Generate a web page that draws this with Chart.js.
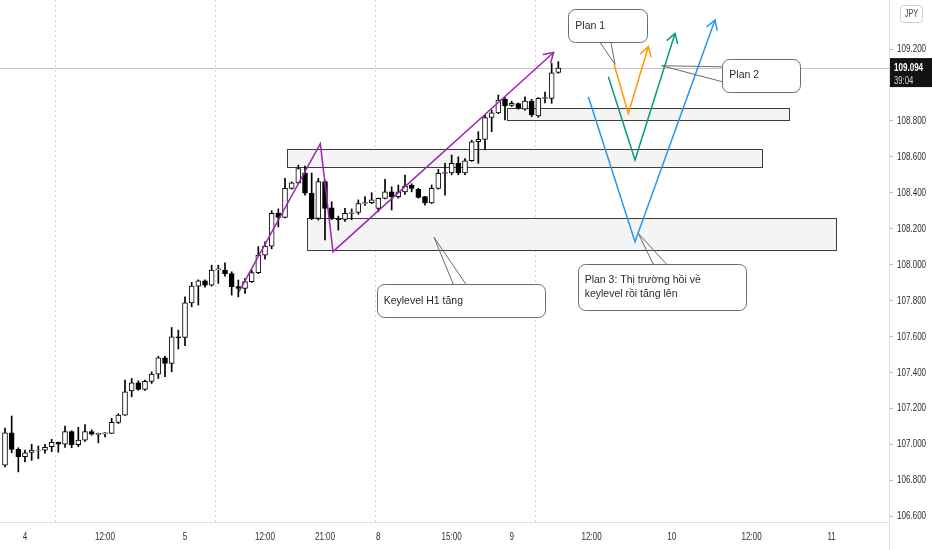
<!DOCTYPE html>
<html>
<head>
<meta charset="utf-8">
<script src="https://cdn.jsdelivr.net/npm/chart.js@4.4.1/dist/chart.umd.min.js"></script>
<style>
html,body{margin:0;padding:0;background:#fff;}
#wrap{width:932px;height:550px;}
</style>
</head>
<body>
<div id="wrap"><canvas id="chart" width="932" height="550"></canvas></div>
<script>
// hourly candles, USD/JPY
const opens  = [106.884,107.064,106.971,106.930,106.955,106.965,106.967,106.986,107.010,107.000,
                107.070,106.997,107.023,107.070,107.055,107.058,107.060,107.122,107.162,107.297,
                107.342,107.305,107.350,107.390,107.481,107.450,107.598,107.595,107.787,107.880,
                107.910,107.886,107.970,107.970,107.950,107.877,107.867,107.905,107.955,108.053,
                108.103,108.285,108.263,108.424,108.455,108.510,108.397,108.257,108.462,108.316,
                108.255,108.252,108.285,108.290,108.340,108.345,108.313,108.369,108.405,108.378,
                108.405,108.443,108.419,108.378,108.344,108.424,108.508,108.510,108.564,108.511,
                108.578,108.684,108.697,108.819,108.845,108.920,108.886,108.896,108.865,108.910,
                108.827,108.925,108.925,109.070];
const highs  = [107.090,107.157,106.980,106.967,107.000,106.990,107.000,107.027,107.012,107.101,
                107.075,107.094,107.110,107.080,107.062,107.065,107.144,107.170,107.357,107.366,
                107.353,107.357,107.403,107.490,107.490,107.650,107.635,107.821,107.901,107.915,
                107.915,107.997,107.997,108.010,107.960,107.914,107.923,107.970,108.100,108.127,
                108.300,108.310,108.480,108.460,108.554,108.549,108.510,108.480,108.470,108.350,
                108.270,108.313,108.310,108.360,108.378,108.400,108.370,108.474,108.433,108.443,
                108.498,108.450,108.425,108.380,108.443,108.530,108.564,108.610,108.600,108.590,
                108.693,108.740,108.833,108.860,108.944,108.930,108.910,108.900,108.934,108.920,
                108.930,108.960,109.120,109.130];
const lows   = [106.873,106.952,106.846,106.902,106.910,106.920,106.950,106.958,106.955,106.982,
                106.980,106.986,107.015,107.050,107.008,107.040,107.060,107.115,107.160,107.264,
                107.300,107.300,107.338,107.366,107.376,107.403,107.530,107.548,107.765,107.775,
                107.875,107.880,107.895,107.936,107.830,107.820,107.840,107.900,107.950,108.030,
                108.088,108.210,108.260,108.420,108.450,108.387,108.250,108.248,108.137,108.250,
                108.192,108.240,108.250,108.280,108.330,108.340,108.294,108.365,108.304,108.370,
                108.390,108.405,108.370,108.331,108.340,108.420,108.387,108.500,108.500,108.500,
                108.575,108.564,108.638,108.740,108.840,108.805,108.880,108.865,108.860,108.823,
                108.820,108.900,108.898,109.065];
const closes = [107.064,106.971,106.930,106.952,106.967,106.968,106.982,107.010,107.000,107.070,
                106.997,107.023,107.070,107.056,107.060,107.063,107.122,107.162,107.292,107.342,
                107.305,107.350,107.390,107.481,107.450,107.598,107.593,107.787,107.880,107.910,
                107.886,107.970,107.976,107.950,107.877,107.867,107.905,107.955,108.053,108.103,
                108.285,108.263,108.424,108.455,108.535,108.397,108.257,108.462,108.313,108.257,
                108.250,108.285,108.290,108.340,108.345,108.360,108.369,108.405,108.378,108.405,
                108.437,108.424,108.374,108.344,108.424,108.508,108.512,108.564,108.511,108.578,
                108.684,108.697,108.819,108.845,108.916,108.884,108.898,108.872,108.910,108.833,
                108.925,108.930,109.068,109.094];

const xTickIdx  = [3, 15, 27, 39, 48, 56, 67, 76, 88, 100, 112, 124];
const xTickText = ['4', '12:00', '5', '12:00', '21:00', '8', '15:00', '9', '12:00', '10', '12:00', '11'];
const yTicks = [106.6, 106.8, 107.0, 107.2, 107.4, 107.6, 107.8, 108.0, 108.2, 108.4, 108.6, 108.8, 109.0, 109.2];
const yLabelSkip = [109.0];
const sessionBreaks = [7.5, 31.5, 55.5, 79.5];

// drawings, in [bar index, price]
const zones = [
  [[42.25, 108.643], [113.5, 108.545]],
  [[45.25, 108.257], [124.65, 108.081]],
  [[75.3, 108.874], [117.6, 108.809]]
];
const purplePath = [[35.1, 107.849], [47.3, 108.673], [49.2, 108.072], [82.3, 109.181]];
const plan1Path = [[91.35, 109.116], [93.5, 108.842], [96.5, 109.213]];
const plan2Path = [[90.5, 109.046], [94.5, 108.582], [100.5, 109.287]];
const plan3Path = [[87.5, 108.934], [94.5, 108.127], [106.5, 109.361]];

const callouts = [
  {box: [[84.5, 109.421], [96.3, 109.235]], tail: [[89.3, 109.235], [90.9, 109.235], [91.5, 109.115]], lines: ['Plan 1']},
  {box: [[107.6, 109.146], [119.35, 108.962]], tail: [[107.6, 109.101], [107.6, 109.018], [98.5, 109.107]], lines: ['Plan 2']},
  {box: [[55.75, 107.890], [80.9, 107.704]], tail: [[67.25, 107.890], [69.15, 107.890], [64.35, 108.152]], lines: ['Keylevel H1 tăng']},
  {box: [[85.9, 108.001], [111.1, 107.743]], tail: [[97.25, 108.001], [99.25, 108.001], [95.0, 108.174]], lines: ['Plan 3: Thị trường hồi về', 'keylevel rồi tăng lên']}
];

const FONT = "'Liberation Sans',Arial,sans-serif";
const SQUEEZE = 0.7;

const idx = opens.map((_, i) => i);
const bodies = idx.map(i => ({x: i, y: [opens[i], closes[i]]}));
const wicks = idx.map(i => ({x: i, y: [lows[i], highs[i]]}));
const bodyFill = idx.map(i => closes[i] >= opens[i] ? '#ffffff' : '#000000');

function px(chart, p) {
  return [chart.scales.x.getPixelForValue(p[0]), chart.scales.y.getPixelForValue(p[1])];
}

// narrow axis text, like the terminal's condensed font
function narrowText(ctx, s, x, y, align) {
  ctx.save();
  ctx.translate(x, y);
  ctx.scale(SQUEEZE, 1);
  ctx.textAlign = align;
  ctx.fillText(s, 0, 0);
  ctx.restore();
}

function arrowHead(ctx, from, tip, len) {
  const a = Math.atan2(tip[1] - from[1], tip[0] - from[0]);
  ctx.beginPath();
  ctx.moveTo(tip[0] - len * Math.cos(a - 0.55), tip[1] - len * Math.sin(a - 0.55));
  ctx.lineTo(tip[0], tip[1]);
  ctx.lineTo(tip[0] - len * Math.cos(a + 0.55), tip[1] - len * Math.sin(a + 0.55));
  ctx.stroke();
}

function drawPath(chart, pts, color) {
  const ctx = chart.ctx;
  const p = pts.map(q => px(chart, q));
  ctx.save();
  ctx.strokeStyle = color;
  ctx.lineWidth = 1.5;
  ctx.beginPath();
  p.forEach((q, i) => i ? ctx.lineTo(q[0], q[1]) : ctx.moveTo(q[0], q[1]));
  ctx.stroke();
  arrowHead(ctx, p[p.length - 2], p[p.length - 1], 11);
  ctx.restore();
}

const drawings = {
  id: 'drawings',
  beforeDatasetsDraw(chart) {
    const {ctx, chartArea: a} = chart;
    ctx.save();
    // session breaks
    ctx.strokeStyle = '#d6d6d6';
    ctx.lineWidth = 1;
    ctx.setLineDash([2, 3]);
    sessionBreaks.forEach(b => {
      const x = Math.round(chart.scales.x.getPixelForValue(b)) + 0.5;
      ctx.beginPath(); ctx.moveTo(x, a.top); ctx.lineTo(x, a.bottom); ctx.stroke();
    });
    ctx.setLineDash([]);
    // zones
    zones.forEach(z => {
      const p1 = px(chart, z[0]), p2 = px(chart, z[1]);
      const x = Math.round(p1[0]) + 0.5, y = Math.round(p1[1]) + 0.5;
      const w = Math.round(p2[0] - p1[0]), h = Math.round(p2[1] - p1[1]);
      ctx.fillStyle = '#f4f4f4';
      ctx.fillRect(x, y, w, h);
      ctx.strokeStyle = '#3c3c3c';
      ctx.strokeRect(x, y, w, h);
    });
    // last price line
    const ly = Math.round(chart.scales.y.getPixelForValue(closes[closes.length - 1])) + 0.5;
    ctx.strokeStyle = '#c4c4c4';
    ctx.beginPath(); ctx.moveTo(a.left, ly); ctx.lineTo(a.right, ly); ctx.stroke();
    ctx.restore();
  },
  afterDatasetsDraw(chart) {
    const {ctx} = chart;
    drawPath(chart, purplePath, '#9c27b0');
    drawPath(chart, plan3Path, '#2196f3');
    drawPath(chart, plan2Path, '#089981');
    drawPath(chart, plan1Path, '#ff9800');

    ctx.save();
    ctx.font = '10.5px ' + FONT;
    ctx.textBaseline = 'middle';
    callouts.forEach(c => {
      const p1 = px(chart, c.box[0]), p2 = px(chart, c.box[1]);
      const t = c.tail.map(q => px(chart, q));
      ctx.strokeStyle = '#6b6b6b';
      ctx.lineWidth = 1;
      ctx.beginPath();
      ctx.moveTo(t[0][0], t[0][1]); ctx.lineTo(t[2][0], t[2][1]); ctx.lineTo(t[1][0], t[1][1]);
      ctx.stroke();
      ctx.fillStyle = '#ffffff';
      ctx.beginPath();
      ctx.roundRect(Math.round(p1[0]) + 0.5, Math.round(p1[1]) + 0.5, Math.round(p2[0] - p1[0]), Math.round(p2[1] - p1[1]), 7);
      ctx.fill(); ctx.stroke();
      ctx.fillStyle = '#2a2a2a';
      const mid = (p1[1] + p2[1]) / 2, lh = 14;
      c.lines.forEach((s, i) => {
        ctx.fillText(s, p1[0] + 7, mid + (i - (c.lines.length - 1) / 2) * lh);
      });
    });
    ctx.restore();
  },
  afterDraw(chart) {
    const {ctx, chartArea: a} = chart;
    const xs = chart.scales.x, ys = chart.scales.y;
    ctx.save();
    // axis frame
    ctx.strokeStyle = '#e0e0e0';
    ctx.lineWidth = 1;
    ctx.beginPath();
    ctx.moveTo(a.right + 0.5, 0); ctx.lineTo(a.right + 0.5, chart.height);
    ctx.moveTo(0, a.bottom + 0.5); ctx.lineTo(a.right, a.bottom + 0.5);
    ctx.stroke();

    // tick labels
    ctx.fillStyle = '#2e2e2e';
    ctx.font = '11.5px ' + FONT;
    ctx.textBaseline = 'middle';
    xs.ticks.forEach(t => {
      const s = xTickText[xTickIdx.indexOf(t.value)];
      if (s) narrowText(ctx, s, xs.getPixelForValue(t.value), a.bottom + 15, 'center');
    });
    ys.ticks.forEach(t => {
      if (yLabelSkip.includes(t.value)) return;
      narrowText(ctx, t.value.toFixed(3), a.right + 8, ys.getPixelForValue(t.value), 'left');
    });

    // last price label
    const last = closes[closes.length - 1];
    const ly = ys.getPixelForValue(last);
    ctx.fillStyle = '#131313';
    ctx.fillRect(a.right + 1, ly - 10, chart.width - a.right, 29);
    ctx.fillStyle = '#ffffff';
    ctx.font = 'bold 11.5px ' + FONT;
    narrowText(ctx, last.toFixed(3), a.right + 5, ly, 'left');
    ctx.fillStyle = '#d8d8d8';
    ctx.font = '11px ' + FONT;
    narrowText(ctx, '39:04', a.right + 5, ly + 13, 'left');

    // currency badge
    ctx.strokeStyle = '#d0d0d0';
    ctx.fillStyle = '#ffffff';
    ctx.beginPath();
    ctx.roundRect(a.right + 11.5, 5.5, 22, 17, 3);
    ctx.fill(); ctx.stroke();
    ctx.fillStyle = '#444';
    ctx.font = '10.5px ' + FONT;
    narrowText(ctx, 'JPY', a.right + 22.5, 14.5, 'center');
    ctx.restore();
  }
};

new Chart(document.getElementById('chart'), {
  type: 'bar',
  data: {
    datasets: [
      {
        label: 'body',
        data: bodies,
        order: 0,
        grouped: false,
        barThickness: 5,
        backgroundColor: bodyFill,
        borderColor: '#000000',
        borderWidth: 1,
        borderSkipped: false
      },
      {
        label: 'wick',
        data: wicks,
        order: 1,
        grouped: false,
        barThickness: 1,
        backgroundColor: '#000000',
        borderWidth: 0
      }
    ]
  },
  options: {
    responsive: false,
    animation: false,
    devicePixelRatio: 1,
    layout: {padding: 0, autoPadding: false},
    plugins: {legend: {display: false}, tooltip: {enabled: false}},
    scales: {
      x: {
        type: 'linear',
        offset: false,
        min: -0.75,
        max: 132.6,
        grid: {display: false},
        border: {display: false},
        afterBuildTicks: s => { s.ticks = xTickIdx.map(v => ({value: v})); },
        afterFit: s => { s.height = 28; },
        ticks: {display: false}
      },
      y: {
        type: 'linear',
        position: 'right',
        min: 106.567,
        max: 109.473,
        grid: {drawOnChartArea: false, drawTicks: true, tickLength: 4, color: '#b8b8b8'},
        border: {display: false},
        afterBuildTicks: s => { s.ticks = yTicks.map(v => ({value: v})); },
        afterFit: s => { s.width = 43; },
        ticks: {display: false}
      }
    }
  },
  plugins: [drawings]
});
</script>
</body>
</html>
